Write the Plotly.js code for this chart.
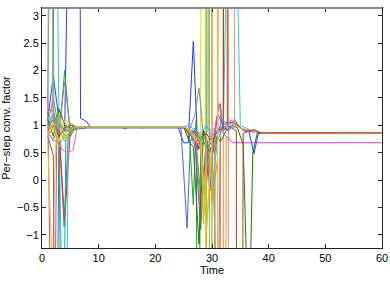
<!DOCTYPE html>
<html>
<head>
<meta charset="utf-8">
<script src="https://cdn.plot.ly/plotly-3.0.1.min.js"></script>
<style>html,body{margin:0;padding:0;background:#fff;}#chart{width:390px;height:283px;}</style>
</head>
<body>
<div id="chart"></div>
<script>
// ---- data (off-scale values are clipped) ----
const blueT   = [1, 2, 3, 4, 5.3, 6.6, 6.8, 7.7, 8.6, 24, 25, 25.8, 26.7, 27.5, 28.5, 29.5, 30.5, 31.5, 32.5, 33.5, 34.5, 35.5, 36.5, 37.4, 38.2, 38.6];
const blueV   = [1.1, 1.9, 1.1, 0.9, 9, 9, 1.13, 1.08, 0.97, 0.97, 0.68, 0.68, 2.53, 0.55, 0.9, 0.78, 0.85, 0.95, 1.05, 1.05, 1.0, 0.92, 0.9, 0.48, 0.85, 0.86];
const blue2T  = [1, 2, 3, 3.9, 4.6, 5.5, 6, 24.5, 25.6, 26.2, 27, 28, 29, 30, 31, 32, 33, 34, 35];
const blue2V  = [0.85, 0.75, 0.95, -0.85, 0.75, 0.95, 0.97, 0.97, -0.88, 0.7, 0.9, 0.8, 0.75, 0.45, 0.85, 0.95, 0.9, 1.05, 0.97];
const greenT  = [1, 2, 3, 4, 5, 6, 14, 14.6, 15.3, 25, 26, 26.7, 27.2, 27.5, 28, 29, 29.5, 29.6, 30.5];
const greenV  = [1.0, 1.2, 0.75, 2.0, 0.8, 0.97, 0.97, 0.93, 0.97, 0.97, 0.85, -0.45, 1.1, -6, 0.7, 0.9, 40, -40, 0.8];
const redT    = [1, 2, 3, 4, 5, 6, 25, 26, 27, 28, 28.8, 29.6, 30.5, 31, 31.8, 32.0, 33, 34, 35, 36, 37.5, 38.5, 40, 60];
const redV    = [1.3, 1.25, 0.9, -0.75, 0.9, 0.97, 0.97, 0.9, 0.75, 0.55, -0.4, 0.7, 0.5, 0.8, 40, 0.9, 1.0, 1.1, 0.95, 0.88, 0.9, 0.86, 0.86, 0.86];
const cyanT   = [1, 1.8, 2.3, 3, 4.2, 4.6, 5.5, 6, 25, 26, 27, 28, 29, 30, 31, 32, 33.5, 35, 36, 37];
const cyanV   = [0.9, 1.2, 9, 0.9, -6, 0.8, 1.0, 0.97, 0.97, 0.9, 0.7, 0.8, 0.6, -0.2, 0.75, 0.95, 9, 1.0, 0.95, 0.9];
const tealT   = [1, 1.8, 2.1, 3, 3.6, 4.2, 5, 6, 25, 26, 27, 28, 29, 30, 31];
const tealV   = [1.2, 9, 1.0, 0.8, -6, 0.75, 0.95, 0.97, 0.97, 0.85, 0.95, -0.3, 0.65, 0.8, 0.9];
const magT    = [1, 1.95, 2.6, 3, 4, 5, 6, 24, 25, 26, 27, 28, 29, 29.6, 30.5, 31.3, 32, 33, 33.7, 60];
const magV    = [1.7, -6, 0.8, 1.0, 0.9, 0.95, 0.97, 0.97, 0.95, 0.9, 0.6, 0.8, 0.7, 0.05, 0.95, 1.4, 0.85, 0.75, 0.68, 0.68];
const pinkT   = [1, 2, 3, 3.5, 4.6, 5.5, 6.2, 25, 26, 27, 28, 29, 30.5, 30.7, 31.5];
const pinkV   = [0.9, 0.7, 0.8, 0.55, 0.5, 0.55, 0.97, 0.97, 0.8, 0.9, -0.6, 0.7, 0.9, -40, 0.8];
const yelT    = [1, 1.8, 2.5, 3.5, 4.5, 5.5, 6.5, 17, 17.6, 18.3, 25, 26, 27, 28, 28.6, 29.1, 30];
const yelV    = [0.7, -1.6, 0.9, 0.85, 1.05, 1.0, 0.97, 0.97, 0.94, 0.97, 0.97, 0.85, 0.7, 0.9, 40, -40, 0.8];
const grayT   = [1, 2, 3, 4, 5, 6, 7, 25, 26, 27, 27.7, 28.5, 29.3, 29.5, 30, 31.1, 31.5, 32, 33, 34, 35, 36, 37, 38, 40, 52];
const grayV   = [1.0, 1.5, 0.9, 1.8, 0.9, 0.95, 0.97, 0.97, 0.9, 1.2, 1.68, 0.8, 0.9, 40, 0.7, -3, 1.39, 0.9, 1.1, 1.05, 0.95, 0.9, 0.88, 0.87, 0.86, 0.86];
const dgrayT  = [1, 2, 2.4, 3, 4, 5, 6, 8, 25, 26, 27, 28, 29];
const dgrayV  = [0.8, 0.45, -6, 0.8, 0.9, 0.9, 0.93, 0.95, 0.95, 0.85, 0.7, -0.9, 0.75];
const orangeT = [1, 2, 3, 4, 5, 6, 25, 26, 27, 28, 29, 30, 31, 31.6, 32.5];
const orangeV = [1.05, 0.95, 1.15, 0.8, 0.9, 0.97, 0.97, 0.9, 0.8, 0.6, 0.7, -0.4, 0.4, -40, 0.8];
const salmonT = [1, 1.4, 2, 3, 4, 5, 6, 25, 26, 27, 28, 29, 30, 31, 32, 32.8, 33.0, 34, 35, 36, 37, 38, 40, 52];
const salmonV = [1.25, 9, 1.1, 1.0, 0.85, 0.95, 0.97, 0.97, 0.9, 0.85, 0.75, 0.8, 0.95, 0.9, 0.85, -40, 40, 1.0, 0.95, 0.92, 0.9, 0.88, 0.86, 0.86];
const purpleT = [1, 2, 3, 4, 5, 6, 25, 26, 27, 28, 29, 29.6, 30.2, 31, 32, 33];
const purpleV = [0.95, 1.1, 0.85, 0.95, 1.0, 0.97, 0.97, 0.92, 0.85, 0.65, 0.7, -0.2, 0.55, 1.2, 1.0, 0.9];
const dgreenT = [1, 2, 3, 4, 5, 6, 25, 26, 26.7, 27.7, 28.5, 29.5, 30.5, 31.5, 32.5, 33.5, 34.5, 35.5, 36.5, 37.2, 38.0, 38.5];
const dgreenV = [1.1, 0.8, 1.3, 1.0, 0.95, 0.97, 0.97, 0.7, 0.6, -1.17, 0.9, 0.5, 0.8, 0.7, 0.9, 1.0, 0.95, 0.65, -3, 0.5, 0.86, 0.86];
const lgreenT = [1, 2, 3, 4, 5, 6, 25, 26, 27, 28, 29, 29.4, 29.7, 30.5];
const lgreenV = [1.15, 1.05, 0.95, 0.7, 0.95, 0.97, 0.97, 0.9, 0.8, 0.7, 0.85, 40, -40, 0.8];
const oliveT  = [1, 2, 3, 4, 5, 6, 25, 26, 27, 28, 28.5, 29, 29.9, 30.1, 31];
const oliveV  = [0.75, 1.0, 0.6, 0.85, 1.0, 0.97, 0.97, 0.88, 0.9, 0.7, -0.8, 0.8, -40, 40, 0.9];
const brownT  = [1, 2, 3, 4, 5, 6, 25, 26, 27, 28, 29, 30, 31, 32, 32.5, 32.7, 33.5, 34.3, 34.5, 35.5, 36.5, 37.5, 38.5, 60];
const brownV  = [0.9, 1.0, 0.8, 0.95, 1.0, 0.97, 0.97, 0.85, 0.9, 0.75, 0.85, 0.7, 0.9, 0.95, 40, 1.0, 0.95, 0.9, -40, 0.85, 0.9, 0.92, 0.86, 0.86];
const limeT   = [1, 2, 3, 4, 5, 6, 25, 26, 27, 28, 29, 30];
const limeV   = [1.0, 0.9, 1.2, 0.75, 0.9, 0.97, 0.97, 0.93, 0.75, 0.85, -0.9, 0.75];
const skyT    = [1, 2, 3, 4, 5, 6, 25, 26, 27, 28, 29, 30, 31, 32, 33, 34];
const skyV    = [0.95, 1.15, 1.0, 0.9, 1.05, 0.97, 0.97, 1.0, 0.9, 0.85, 1.0, 0.8, 0.9, 1.1, 0.95, 0.97];
const goldT   = [1, 2, 3, 4, 5, 6, 25, 26, 27, 28, 29, 30, 30.8, 31.2, 32];
const goldV   = [0.8, 1.05, 0.7, 1.1, 1.05, 0.97, 0.97, 0.9, 0.75, 0.6, -1.0, 0.65, 40, -40, 0.7];

const seriesTimes  = [blueT, blue2T, greenT, redT, cyanT, tealT, magT, pinkT, yelT, grayT, dgrayT, orangeT, salmonT, purpleT, dgreenT, lgreenT, oliveT, brownT, limeT, skyT, goldT];
const seriesValues = [blueV, blue2V, greenV, redV, cyanV, tealV, magV, pinkV, yelV, grayV, dgrayV, orangeV, salmonV, purpleV, dgreenV, lgreenV, oliveV, brownV, limeV, skyV, goldV];
const seriesColors = ['#1f3fff', '#4a66e0', '#1fa01f', '#ff2a00', '#22d0d0', '#16a5a5', '#d83ad8', '#f060c8', '#e0d800', '#8a8a8a', '#666666', '#ff8c00', '#f0906c', '#9a48e0', '#127a12', '#7acc66', '#b8b030', '#b04010', '#9ad820', '#40a8ff', '#ffb830'];

const traces = seriesTimes.map((t, i) => ({
  x: t, y: seriesValues[i], type: 'scatter', mode: 'lines',
  line: {color: seriesColors[i], width: 1}, hoverinfo: 'skip'
}));

const layout = {
  width: 390, height: 283,
  margin: {l: 42, r: 8, t: 8, b: 35},
  paper_bgcolor: '#fff', plot_bgcolor: '#fff',
  showlegend: false,
  font: {family: 'Liberation Sans, Arial, sans-serif', size: 11, color: '#000'},
  xaxis: {
    range: [0, 60], tickvals: [0, 10, 20, 30, 40, 50, 60],
    ticks: 'inside', ticklen: 4, tickcolor: '#222', showline: true, mirror: 'ticks',
    linecolor: '#222', linewidth: 1, showgrid: false, zeroline: false,
    title: {text: 'Time', standoff: 2, font: {size: 11}}
  },
  yaxis: {
    range: [-1.24, 3.14], tickvals: [-1, -0.5, 0, 0.5, 1, 1.5, 2, 2.5, 3],
    ticks: 'inside', ticklen: 4, tickcolor: '#222', showline: true, mirror: 'ticks',
    linecolor: '#222', linewidth: 1, showgrid: false, zeroline: false,
    title: {text: 'Per\u2212step conv. factor', standoff: 4, font: {size: 11}}
  },
  shapes: [{
    type: 'line', xref: 'paper', yref: 'paper', x0: 0, x1: 1, y0: 1, y1: 1,
    line: {color: '#8c8c8c', width: 2}, layer: 'above'
  }]
};

Plotly.newPlot('chart', traces, layout, {staticPlot: true, displayModeBar: false});
</script>
</body>
</html>
